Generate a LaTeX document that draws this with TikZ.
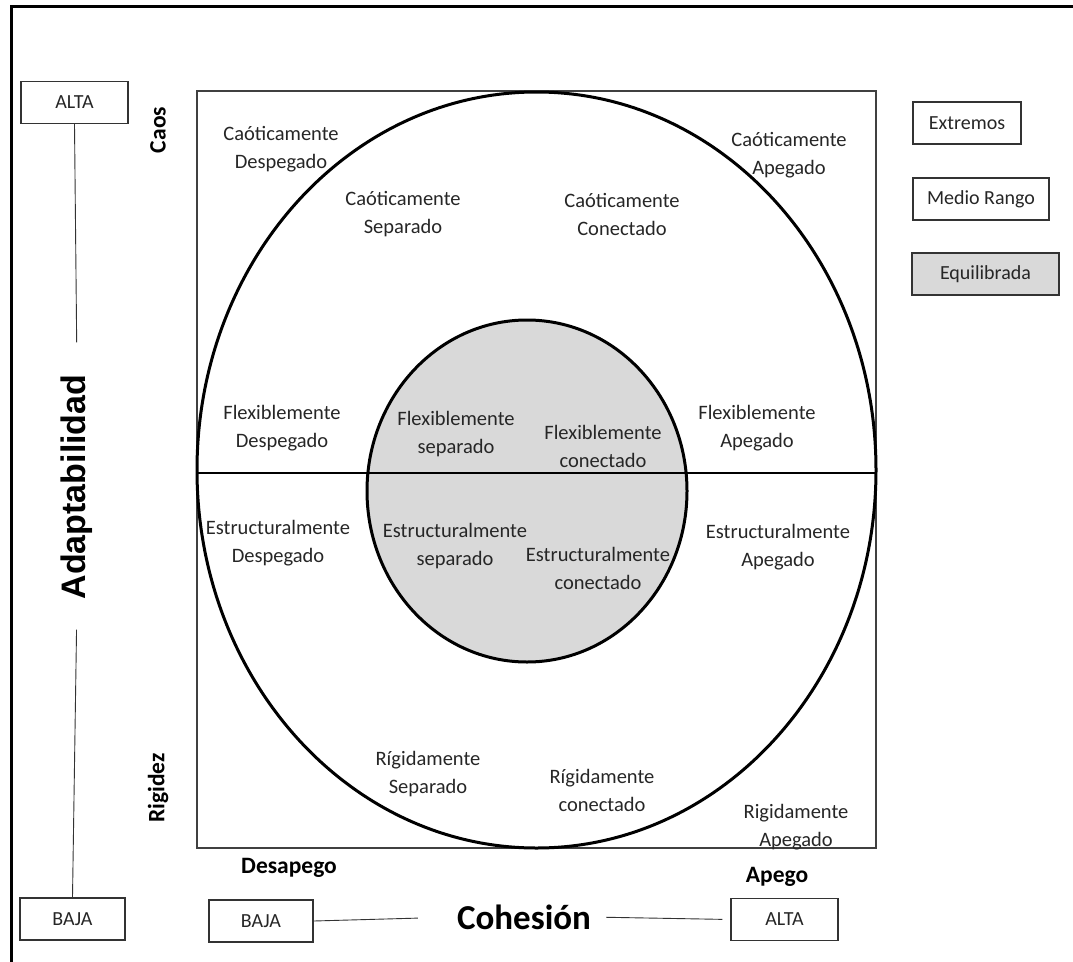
\documentclass[tikz,border=0pt]{standalone}
\usepackage{fontspec}
\setmainfont{Carlito}
\newfontfamily\arialfont{Liberation Sans}
\usetikzlibrary{positioning}

\definecolor{shade}{HTML}{D9D9D9}

\begin{document}
\begin{tikzpicture}[x=1pt,y=-1pt,
    lvl/.style={draw=black!80, line width=1.3pt, minimum height=42pt, inner sep=0pt, text=black!85, font=\fontsize{20}{22}\selectfont},
    zone/.style={align=center, text=black!85, font=\fontsize{20.5}{28}\selectfont},
    pole/.style={text=black, font=\bfseries\fontsize{23.5}{26}\selectfont},
    link/.style={draw=black!80, line width=0.9pt}]
    \useasboundingbox (0,0) rectangle (1073,961);
    % frame round the page (only top and left show)
    \draw[line width=3pt] (11,965) -- (11,6) -- (1080,6);

    % grid and the two rings
    \draw[draw=black!75, line width=1.4pt] (197,91) rectangle (876,848);
    \draw[line width=3pt] (536.5,470) ellipse [x radius=339.5, y radius=378];
    \draw[line width=3pt, fill=shade] (527,491) ellipse [x radius=160, y radius=171];
    \coordinate (midW) at (197,473);
    \coordinate (midE) at (876,473);
    \draw[line width=1.3pt] (midW) -- (midE);

    % upper band
    \node[zone] (cdes) at (281,149) {Caóticamente\\Despegado};
    \node[zone] (csep) at (403,214) {Caóticamente\\Separado};
    \node[zone] (ccon) at (622,214) {Caóticamente\\Conectado};
    \node[zone] (cape) at (789,155) {Caóticamente\\Apegado};
    \node[zone] (fdes) at (282,428) {Flexiblemente\\Despegado};
    \node[zone] (fsep) at (456,434) {Flexiblemente\\separado};
    \node[zone] (fcon) at (603,446) {Flexiblemente\\conectado};
    \node[zone] (fape) at (757,428) {Flexiblemente\\Apegado};
    % lower band
    \node[zone] (edes) at (278,543) {Estructuralmente\\Despegado};
    \node[zone] (esep) at (455,546) {Estructuralmente\\separado};
    \node[zone] (econ) at (598,568) {Estructuralmente\\conectado};
    \node[zone] (eape) at (778,547) {Estructuralmente\\Apegado};
    \node[zone] (rsep) at (428,774) {Rígidamente\\Separado};
    \node[zone] (rcon) at (602,790) {Rígidamente\\conectado};
    \node[zone] (rape) at (796,827) {Rigidamente\\Apegado};

    % adaptability axis
    \node[pole, rotate=90] (caos) at (158,130) {Caos};
    \node[pole, rotate=90] (rigid) at (158,788) {Rigidez};
    \node[lvl, minimum width=107pt] (altaA) at (74.5,102.5) {ALTA};
    \node[lvl, minimum width=105pt] (bajaA) at (72.5,919) {BAJA};
    \node[rotate=90, inner sep=0pt, font=\arialfont\bfseries\fontsize{34}{36}\selectfont] (adapt) at (77,487) {Adaptabilidad};
    \draw[link, shorten >=32pt] (altaA.south) -- (adapt.east);
    \draw[link, shorten <=30pt] (adapt.west) -- (bajaA.north);

    % cohesion axis
    \node[pole] (desap) at (289,868) {Desapego};
    \node[pole] (apego) at (777,877) {Apego};
    \node[lvl, minimum width=104pt] (bajaC) at (261,921) {BAJA};
    \node[lvl, minimum width=107pt] (altaC) at (784.5,919.5) {ALTA};
    \node[inner sep=0pt, font=\bfseries\fontsize{35}{38}\selectfont] (cohes) at (524,917) {Cohesión};
    \draw[link, shorten >=39pt] (bajaC.east) -- (cohes.west);
    \draw[link, shorten <=15pt, shorten >=8pt] (cohes.east) -- (altaC.west);

    % legend
    \node[lvl, minimum width=108pt] (extr) at (967,123) {Extremos};
    \node[lvl, minimum width=136pt] (medio) at (981,199) {Medio Rango};
    \node[lvl, minimum width=147pt, fill=shade] (equil) at (985.5,274) {Equilibrada};
\end{tikzpicture}
\end{document}
